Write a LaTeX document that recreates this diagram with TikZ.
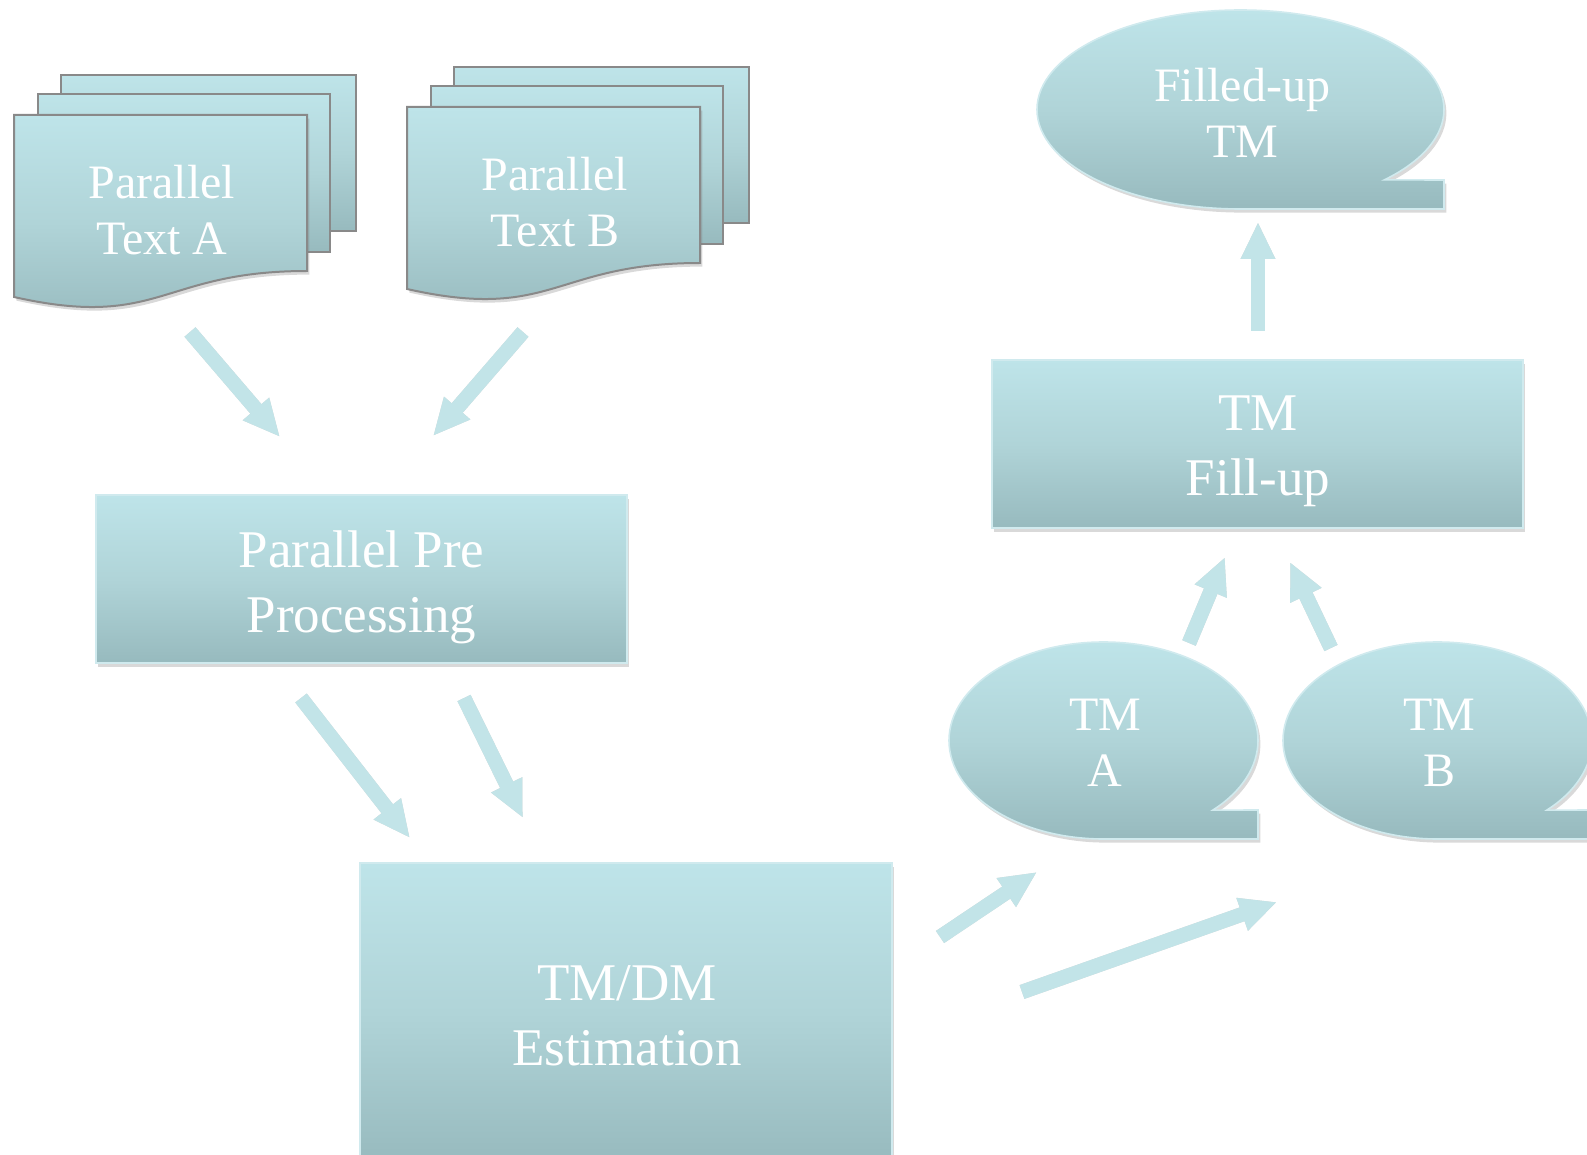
\documentclass[tikz,border=0pt]{standalone}
\usepackage{fontspec}
\setmainfont{Liberation Serif}
\usetikzlibrary{arrows.meta,shadows}

\definecolor{gradtop}{RGB}{190,228,233}
\definecolor{gradmid}{RGB}{176,212,216}
\definecolor{gradbot}{RGB}{151,186,190}
\definecolor{docline}{RGB}{137,137,137}
\definecolor{boxline}{RGB}{208,234,238}
\definecolor{arrowc}{RGB}{194,228,232}

\newcommand\boxfont{\fontsize{26.5}{32.5}\selectfont}
\newcommand\tagfont{\fontsize{24}{28.2}\selectfont}

\tikzset{
  shadefill/.style={top color=gradtop, bottom color=gradbot, middle color=gradmid},
  softshadow/.style={drop shadow={shadow xshift=1.2pt, shadow yshift=-1.8pt, opacity=0.3}},
  sheet/.style={shadefill, draw=docline, line width=1pt},
  procbox/.style={shadefill, draw=boxline, line width=1pt, softshadow, inner sep=0pt},
  boxtext/.style={text=white, align=center, inner sep=0pt, font=\boxfont},
  tapeshape/.style={shadefill, draw=boxline, line width=0.8pt, softshadow},
  label/.style={text=white, align=center, inner sep=0pt, font=\tagfont},
  blockarrow/.style={line width=7.3pt, draw=arrowc,
    -{Triangle[width=16pt,length=18.5pt]}},
  arrowshade/.style={line width=7.3pt, draw=black!16,
    -{Triangle[width=16pt,length=18.5pt]}, shift={(2,3)}},
}

\begin{document}
\begin{tikzpicture}[x=0.5pt,y=-0.5pt]
\useasboundingbox (0,0) rectangle (1587,1155);

% ---- stacked documents ----
\begin{scope}
  \path[sheet] (61,75) rectangle (356,231);
  \path[sheet] (38,94) rectangle (330,252);
  \path[sheet, softshadow] (14,115) -- (307,115) -- (307,271)
     .. controls (160.5,271) and (160.5,330) .. (14,297) -- cycle;
  \node[label] (textA) at (162,210) {Parallel\\Text A};
\end{scope}
\begin{scope}[shift={(393,-8)}]
  \path[sheet] (61,75) rectangle (356,231);
  \path[sheet] (38,94) rectangle (330,252);
  \path[sheet, softshadow] (14,115) -- (307,115) -- (307,271)
     .. controls (160.5,271) and (160.5,330) .. (14,297) -- cycle;
  \node[label] (textB) at (162,210) {Parallel\\Text B};
\end{scope}

% ---- process boxes ----
\node[procbox, minimum width=265.5pt, minimum height=84pt] (pre) at (361.5,579) {};
\node[boxtext] (preT) at (361.5,587) {Parallel Pre\\Processing};
\node[procbox, minimum width=266pt, minimum height=150pt] (est) at (626,1013) {};
\node[boxtext] (estT) at (627,1016) {TM/DM\\Estimation};
\node[procbox, minimum width=265.5pt, minimum height=84pt] (fill) at (1257.5,444) {};
\node[boxtext] (fillT) at (1258,451) {TM\\Fill-up};

% ---- tape-shaped stores ----
\path[tapeshape] (1240.5,209) arc[start angle=270, end angle=-45, x radius=101.75pt, y radius=49.75pt]
   -- (1444,180) -- (1444,209) -- cycle;
\node[label] (ftm) at (1242,113) {Filled-up\\TM};

\path[tapeshape] (1103.5,839) arc[start angle=270, end angle=-45, x radius=77.25pt, y radius=49.25pt]
   -- (1258,810) -- (1258,839) -- cycle;
\node[label] (tma) at (1105,743) {TM\\A};

\path[tapeshape] (1437.5,839) arc[start angle=270, end angle=-45, x radius=77.25pt, y radius=49.25pt]
   -- (1592,810) -- (1592,839) -- cycle;
\node[label] (tmb) at (1439,743) {TM\\B};

% ---- arrow ends ----
\coordinate (a1s) at (190,332);  \coordinate (a1e) at (280,437);
\coordinate (a2s) at (523,332);  \coordinate (a2e) at (433,436);
\coordinate (a3s) at (301,698);  \coordinate (a3e) at (410,838);
\coordinate (a4s) at (464,698);  \coordinate (a4e) at (523,818);
\coordinate (a5s) at (940,937);  \coordinate (a5e) at (1037,872);
\coordinate (a6s) at (1022,992); \coordinate (a6e) at (1277,902);
\coordinate (a7s) at (1189,643); \coordinate (a7e) at (1225,557);
\coordinate (a8s) at (1331,648); \coordinate (a8e) at (1290,562);
\coordinate (a9s) at (1258,331); \coordinate (a9e) at (1258,222);

\foreach \k in {1,...,9}{
  \draw[arrowshade] (a\k s) -- (a\k e);
}
\foreach \k in {1,...,9}{
  \draw[blockarrow] (a\k s) -- (a\k e);
}
\end{tikzpicture}
\end{document}
